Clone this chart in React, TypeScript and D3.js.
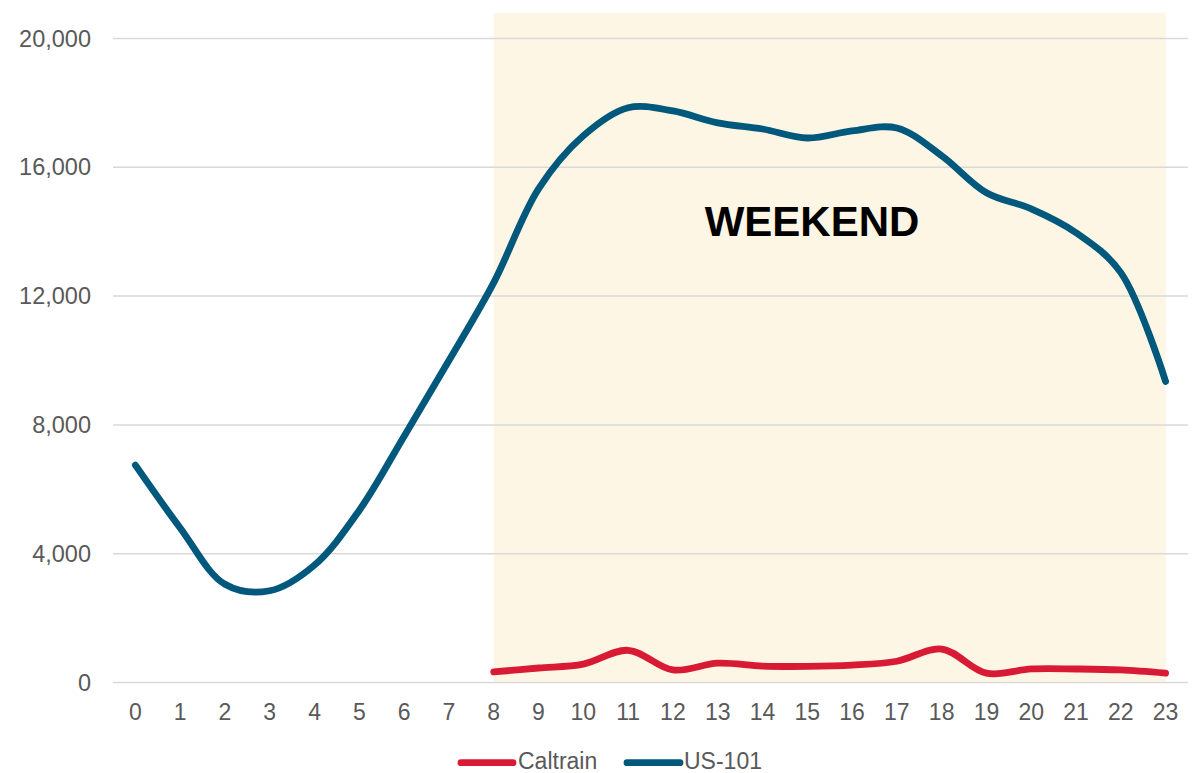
import React from "react";
import * as d3 from "d3";

const hours = d3.range(0, 24).map(String);
const us101 = [6750, 4800, 3050, 2850, 3650, 5350, 7650, 10000, 12420, 15330, 16980, 17850, 17750, 17380, 17190, 16910, 17130, 17220, 16360, 15210, 14710, 13970, 12730, 9350];
const caltrainHours = d3.range(8, 24);
const caltrain = [330, 450, 570, 1000, 390, 600, 510, 500, 540, 660, 1040, 290, 420, 420, 390, 290];
const yTicks = [0, 4000, 8000, 12000, 16000, 20000];
const weekendStart = 8;
const weekendEnd = 23;

const W = 1200;
const H = 773;

export default function App() {
  const x = d3.scaleBand<string>().domain(hours).range([113, 1188]).paddingInner(0).paddingOuter(0);
  const cx = (h: number) => (x(String(h)) as number) + x.bandwidth() / 2;
  const y = d3.scaleLinear().domain([0, 20000]).range([682.5, 38.5]);
  const line = d3
    .line<[number, number]>()
    .x((d) => cx(d[0]))
    .y((d) => y(d[1]))
    .curve(d3.curveCatmullRom.alpha(0.5));
  const usPath = line(us101.map((v, i) => [i, v] as [number, number])) || "";
  const ctPath = line(caltrain.map((v, i) => [caltrainHours[i], v] as [number, number])) || "";
  const fmt = d3.format(",");
  const font = "'Liberation Sans', Arial, sans-serif";
  const red = "#D91A35";
  const blue = "#00587C";
  return (
    <svg width={W} height={H} style={{ position: "absolute", left: 0, top: 0 }} fontFamily={font}>
      <rect x={0} y={0} width={W} height={H} fill="#fff" />
      <rect x={cx(weekendStart)} y={13} width={cx(weekendEnd) - cx(weekendStart)} height={y(0) - 13} fill="#FEF6E4" />
      {yTicks.map((t) => (
        <g key={t}>
          <line x1={113} x2={1188} y1={y(t)} y2={y(t)} stroke="#D9D9D9" strokeWidth={1.5} />
          <text x={91} y={y(t) + 8} textAnchor="end" fontSize={23.5} fill="#595959">
            {fmt(t)}
          </text>
        </g>
      ))}
      {hours.map((h) => (
        <text key={h} x={cx(+h)} y={719.5} textAnchor="middle" fontSize={23} fill="#595959">
          {h}
        </text>
      ))}
      <text x={812} y={236} textAnchor="middle" fontSize={42} fontWeight="bold" fill="#000">
        WEEKEND
      </text>
      <path d={usPath} fill="none" stroke={blue} strokeWidth={6.8} strokeLinecap="round" strokeLinejoin="round" />
      <path d={ctPath} fill="none" stroke={red} strokeWidth={6.8} strokeLinecap="round" strokeLinejoin="round" />
      <g>
        <line x1={461} x2={513} y1={762.7} y2={762.7} stroke={red} strokeWidth={6.8} strokeLinecap="round" />
        <text x={518} y={769} fontSize={23} fill="#595959">Caltrain</text>
        <line x1={627} x2={680} y1={762.7} y2={762.7} stroke={blue} strokeWidth={6.8} strokeLinecap="round" />
        <text x={684} y={769} fontSize={23} fill="#595959">US-101</text>
      </g>
    </svg>
  );
}
